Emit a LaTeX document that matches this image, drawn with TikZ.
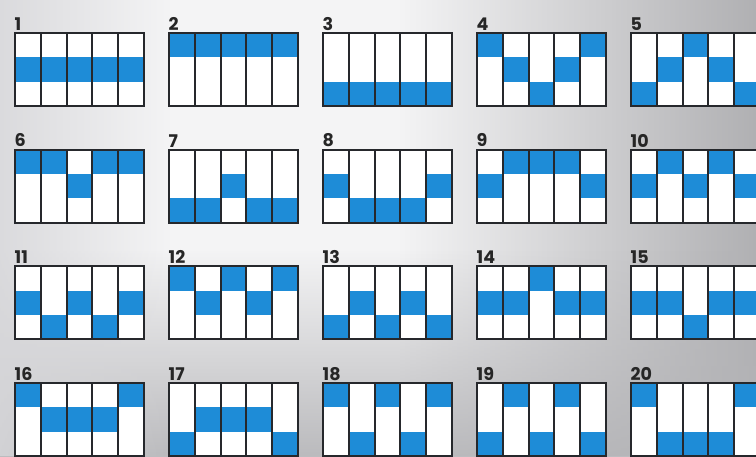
\documentclass[tikz,border=0pt]{standalone}
\usepackage{fontspec}
\setmainfont{Poppins}
\usetikzlibrary{fadings}
\definecolor{cblue}{RGB}{30,140,215}
\definecolor{cline}{RGB}{38,40,44}
\definecolor{bgbase}{RGB}{244,244,245}
\definecolor{bgright}{RGB}{168,168,171}
\definecolor{bgbottom}{RGB}{180,180,183}
\definecolor{bgleft}{RGB}{214,214,217}
\tikzfading[name=mytoright, left color=transparent!100, right color=transparent!0]
\tikzfading[name=mytoleft, left color=transparent!0, right color=transparent!100]
\tikzfading[name=mytobottom, top color=transparent!100, bottom color=transparent!0]
\begin{document}
\begin{tikzpicture}[x=1pt,y=-1pt,
  cell/.style={fill=cblue},
  frame/.style={draw=cline,line width=2pt},
  numlabel/.style={anchor=south west,inner sep=0pt,font=\bfseries\fontsize{17.5}{17.5}\selectfont,text=black!85}]
\useasboundingbox (0,0) rectangle (756,456);
\begin{scope}
\clip (0,0) rectangle (756,456);
\fill[bgbase] (0,0) rectangle (756,456);
\fill[bgright, path fading=mytoright] (400,0) rectangle (800,456);
\fill[bgbottom, path fading=mytobottom] (0,250) rectangle (756,480);
\fill[bgleft, path fading=mytoleft] (-30,0) rectangle (170,456);
\foreach \n/\pa/\pb/\pc/\pd/\pe [count=\k from 0] in {
  1/1/1/1/1/1, 2/0/0/0/0/0, 3/2/2/2/2/2, 4/0/1/2/1/0, 5/2/1/0/1/2,
  6/0/0/1/0/0, 7/2/2/1/2/2, 8/1/2/2/2/1, 9/1/0/0/0/1, 10/1/0/1/0/1,
  11/1/2/1/2/1, 12/0/1/0/1/0, 13/2/1/2/1/2, 14/1/1/0/1/1, 15/1/1/2/1/1,
  16/0/1/1/1/0, 17/2/1/1/1/2, 18/0/2/0/2/0, 19/2/0/2/0/2, 20/0/2/2/2/0}{
  \pgfmathsetmacro{\xo}{15+154*mod(\k,5)}
  \pgfmathsetmacro{\yo}{33+116.7*int(\k/5)}
  \fill[white] (\xo,\yo) rectangle ++(129,73);
  \foreach \v [count=\i from 0] in {\pa,\pb,\pc,\pd,\pe}{
    \fill[cell] ({\xo+25.8*\i},{\yo+24.333*\v}) rectangle ++(25.8,24.333);
  }
  \foreach \i in {1,2,3,4}{
    \draw[frame] ({\xo+25.8*\i},\yo) -- ++(0,73);
  }
  \draw[frame] (\xo,\yo) rectangle ++(129,73);
  \node[numlabel] (l\n) at (\xo-0.5,\yo-2.5) {\n};
}
\end{scope}
\end{tikzpicture}
\end{document}
